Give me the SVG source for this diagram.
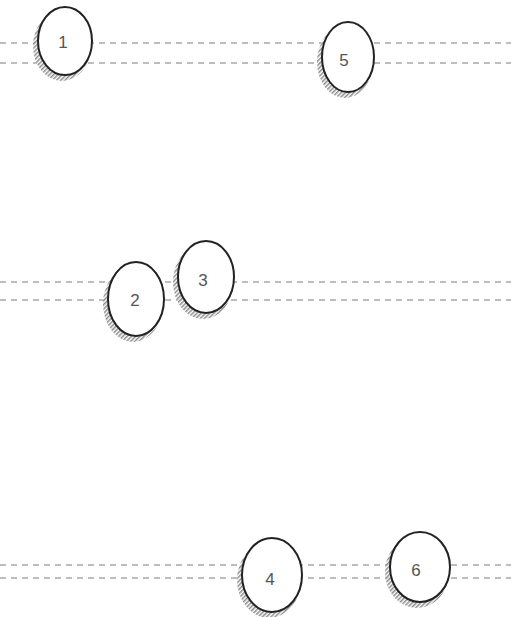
<svg xmlns="http://www.w3.org/2000/svg" width="511" height="617" viewBox="0 0 511 617">
<defs>
<pattern id="hatch" width="3" height="3" patternUnits="userSpaceOnUse" patternTransform="rotate(45)">
<rect width="3" height="3" fill="#fff"/>
<rect width="1.5" height="3" fill="#777"/>
</pattern>
</defs>
<style>
.ln{stroke:#a8a8a8;stroke-width:1.6;stroke-dasharray:6 5;fill:none}
.sh{fill:url(#hatch);stroke:none;opacity:0.85}
.el{fill:#fff;stroke:#222;stroke-width:2}
.tx{font-family:"Liberation Sans",Arial,sans-serif;font-size:17px;fill:#555;text-anchor:middle}
</style>
<rect width="511" height="617" fill="#fff"/>
<g id="connectors">
<line class="ln" x1="0" y1="43" x2="511" y2="43"/>
<line class="ln" x1="0" y1="63" x2="511" y2="63"/>
<line class="ln" x1="0" y1="282" x2="511" y2="282"/>
<line class="ln" x1="0" y1="300" x2="511" y2="300"/>
<line class="ln" x1="0" y1="565" x2="511" y2="565"/>
<line class="ln" x1="0" y1="578" x2="511" y2="578"/>
</g>
<g id="node1">
<ellipse class="sh" cx="62" cy="46" rx="29" ry="35"/>
<ellipse class="el" cx="65" cy="41" rx="27" ry="34"/>
<text class="tx" x="63" y="48">1</text>
</g>
<g id="node5">
<ellipse class="sh" cx="345" cy="62" rx="28" ry="36"/>
<ellipse class="el" cx="348" cy="57" rx="26" ry="35"/>
<text class="tx" x="344" y="66">5</text>
</g>
<g id="node2">
<ellipse class="sh" cx="133" cy="304" rx="30" ry="38"/>
<ellipse class="el" cx="136" cy="299" rx="28" ry="37"/>
<text class="tx" x="135" y="306">2</text>
</g>
<g id="node3">
<ellipse class="sh" cx="203" cy="282" rx="30" ry="37"/>
<ellipse class="el" cx="206" cy="277" rx="28" ry="36"/>
<text class="tx" x="203" y="286">3</text>
</g>
<g id="node4">
<ellipse class="sh" cx="269" cy="580" rx="32" ry="38"/>
<ellipse class="el" cx="272" cy="575" rx="30" ry="37"/>
<text class="tx" x="270" y="585">4</text>
</g>
<g id="node6">
<ellipse class="sh" cx="417" cy="572" rx="32" ry="36"/>
<ellipse class="el" cx="420" cy="567" rx="30" ry="35"/>
<text class="tx" x="416" y="576">6</text>
</g>
</svg>
